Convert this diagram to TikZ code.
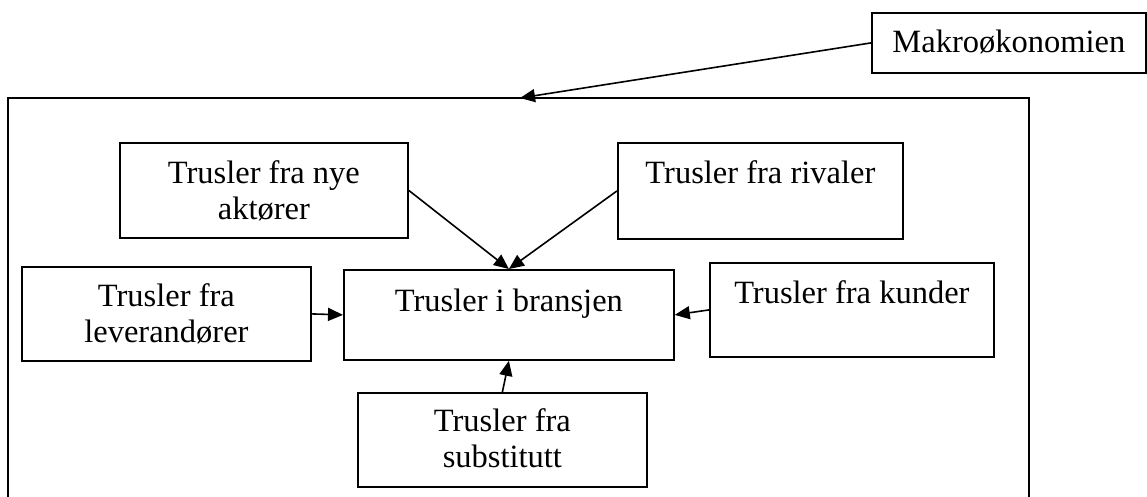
\documentclass[tikz,border=0pt]{standalone}
\usepackage{fontspec}
\setmainfont{Liberation Serif}
\usetikzlibrary{arrows.meta,calc}
\begin{document}
\begin{tikzpicture}[x=1pt,y=-1pt,
  box/.style={draw, line width=1.8pt, inner sep=0pt, anchor=north west},
  txt/.style={anchor=north, inner sep=0pt, align=center, font=\fontsize{32.5}{36.5}\selectfont},
  frame/.style={draw, line width=1.8pt},
  link/.style={line width=1.6pt, -{Triangle[length=15pt,width=13pt]}}
]
\useasboundingbox (0,0) rectangle (1147,496);

% outer frame (environment of the industry), open at the bottom edge
\draw[frame] (8,497) -- (8,98) -- (1029,98) -- (1029,497);
\coordinate (frameIn) at (520,98);

% boxes
\node[box, minimum width=274pt, minimum height=60pt] (makro) at (871,12) {};
\node[box, minimum width=288pt, minimum height=95pt] (nye) at (119,142) {};
\node[box, minimum width=285pt, minimum height=96pt] (rivaler) at (617,142) {};
\node[box, minimum width=289pt, minimum height=94pt] (lev) at (21,266) {};
\node[box, minimum width=330pt, minimum height=90pt] (bransje) at (343,269) {};
\node[box, minimum width=284pt, minimum height=94pt] (kunder) at (709,262) {};
\node[box, minimum width=289pt, minimum height=94pt] (subst) at (357,392) {};

% texts, set at the top of each box
\node[txt] (makroT) at ($(makro.north)+(0,18)$) {Makroøkonomien};
\node[txt] (nyeT) at ($(nye.north)+(0,18)$) {Trusler fra nye\\aktører};
\node[txt] (rivalerT) at ($(rivaler.north)+(0,18)$) {Trusler fra rivaler};
\node[txt] (levT) at ($(lev.north)+(0,17)$) {Trusler fra\\leverandører};
\node[txt] (bransjeT) at ($(bransje.north)+(0,20)$) {Trusler i bransjen};
\node[txt] (kunderT) at ($(kunder.north)+(0,18)$) {Trusler fra kunder};
\node[txt] (substT) at ($(subst.north)+(0,16)$) {Trusler fra\\substitutt};

% connectors
\draw[link] (makro.west) -- (frameIn);
\draw[link] (nye.east) -- (bransje.north);
\draw[link] (rivaler.west) -- (bransje.north);
\draw[link] (lev.east) -- (bransje.west);
\draw[link] (kunder.west) -- (bransje.east);
\draw[link] (subst.north) -- (bransje.south);
\end{tikzpicture}
\end{document}
